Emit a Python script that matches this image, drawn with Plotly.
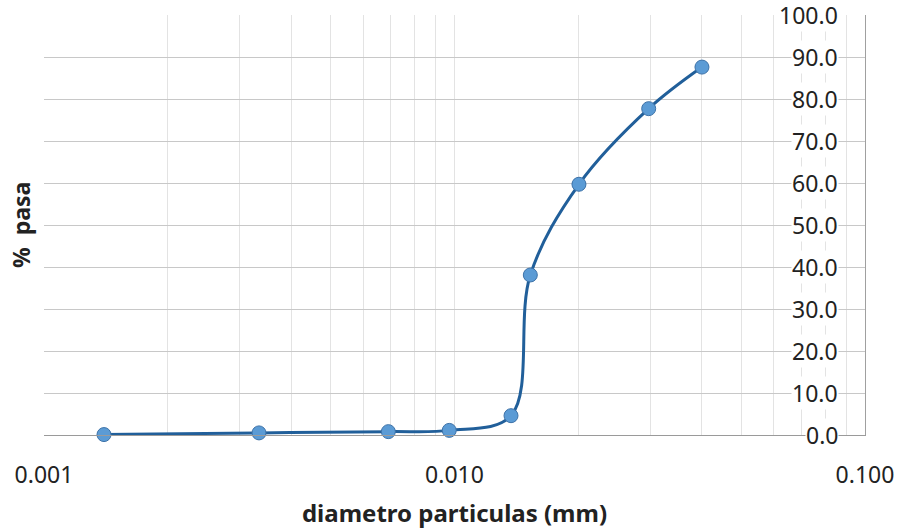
import plotly.graph_objects as go
import numpy as np

# ── Data ──────────────────────────────────────────────────────────────────────
diam_mm = [0.00140, 0.00334, 0.00690, 0.00971, 0.01373, 0.01530, 0.02010, 0.02972, 0.04007]
pct_pasa = [0.1, 0.5, 0.8, 1.1, 4.6, 38.1, 59.7, 77.7, 87.6]

y_ticks = [0, 10, 20, 30, 40, 50, 60, 70, 80, 90, 100]
x_decades = [0.001, 0.01, 0.1]

FONT = "Noto Sans, sans-serif"

# log grid: 1..9 per decade, label only the decades
x_tickvals, x_ticktext = [], []
for d in x_decades[:-1]:
    for k in range(1, 10):
        x_tickvals.append(d * k)
        x_ticktext.append(f"{d:.3f}" if k == 1 else "")
x_tickvals.append(x_decades[-1])
x_ticktext.append(f"{x_decades[-1]:.3f}")

fig = go.Figure()
fig.add_trace(go.Scatter(
    x=diam_mm, y=pct_pasa,
    mode="lines+markers",
    line=dict(color="#215f9a", width=3, shape="spline", smoothing=1),
    marker=dict(size=14, color="#5b9bd5", line=dict(color="#3d72a8", width=1)),
    cliponaxis=False,
    showlegend=False,
))

fig.update_layout(
    width=898, height=529,
    paper_bgcolor="white", plot_bgcolor="white",
    font=dict(family=FONT, color="#222", size=22),
    margin=dict(l=44, r=33, t=15, b=94, autoexpand=False),
    xaxis=dict(
        type="log", range=[-3, -1], automargin=False,
        tickvals=x_tickvals, ticktext=x_ticktext,
        tickfont=dict(size=23, color="#222"),
        showgrid=True, gridcolor="#e3e3e3", gridwidth=1,
        showline=True, linecolor="#9a9a9a", linewidth=1,
        ticks="", ticklabelstandoff=19,
        zeroline=False,
        title=dict(text="<b>diametro particulas (mm)</b>", standoff=17,
                   font=dict(size=24, color="#222")),
    ),
    yaxis=dict(
        side="right", range=[0, 100], automargin=False,
        tickvals=y_ticks, showticklabels=False,
        showgrid=True, gridcolor="#c8c8c8", gridwidth=1,
        showline=True, linecolor="#a0a0a0", linewidth=1,
        ticks="", zeroline=False,
    ),
)

# y tick labels sit inside the plot, with a white box that hides the gridline
for v in y_ticks:
    fig.add_annotation(
        x=1, xref="paper", y=v, yref="y",
        text=f"{v:.1f}", showarrow=False,
        xanchor="right", yanchor="middle", xshift=-26,
        bgcolor="white", borderpad=0,
        font=dict(size=23, color="#222"),
    )

fig.add_annotation(
    x=-0.028, xref="paper", y=0.5, yref="paper",
    text="<b>%\u00a0\u00a0pasa</b>", textangle=-90, showarrow=False,
    xanchor="center", yanchor="middle",
    font=dict(size=23, color="#222"),
)

# drop the browser's default body margin so the figure sits at the page corner
fig.write_html("out.html", config={"displayModeBar": False},
               post_script="document.body.style.margin='0';")
